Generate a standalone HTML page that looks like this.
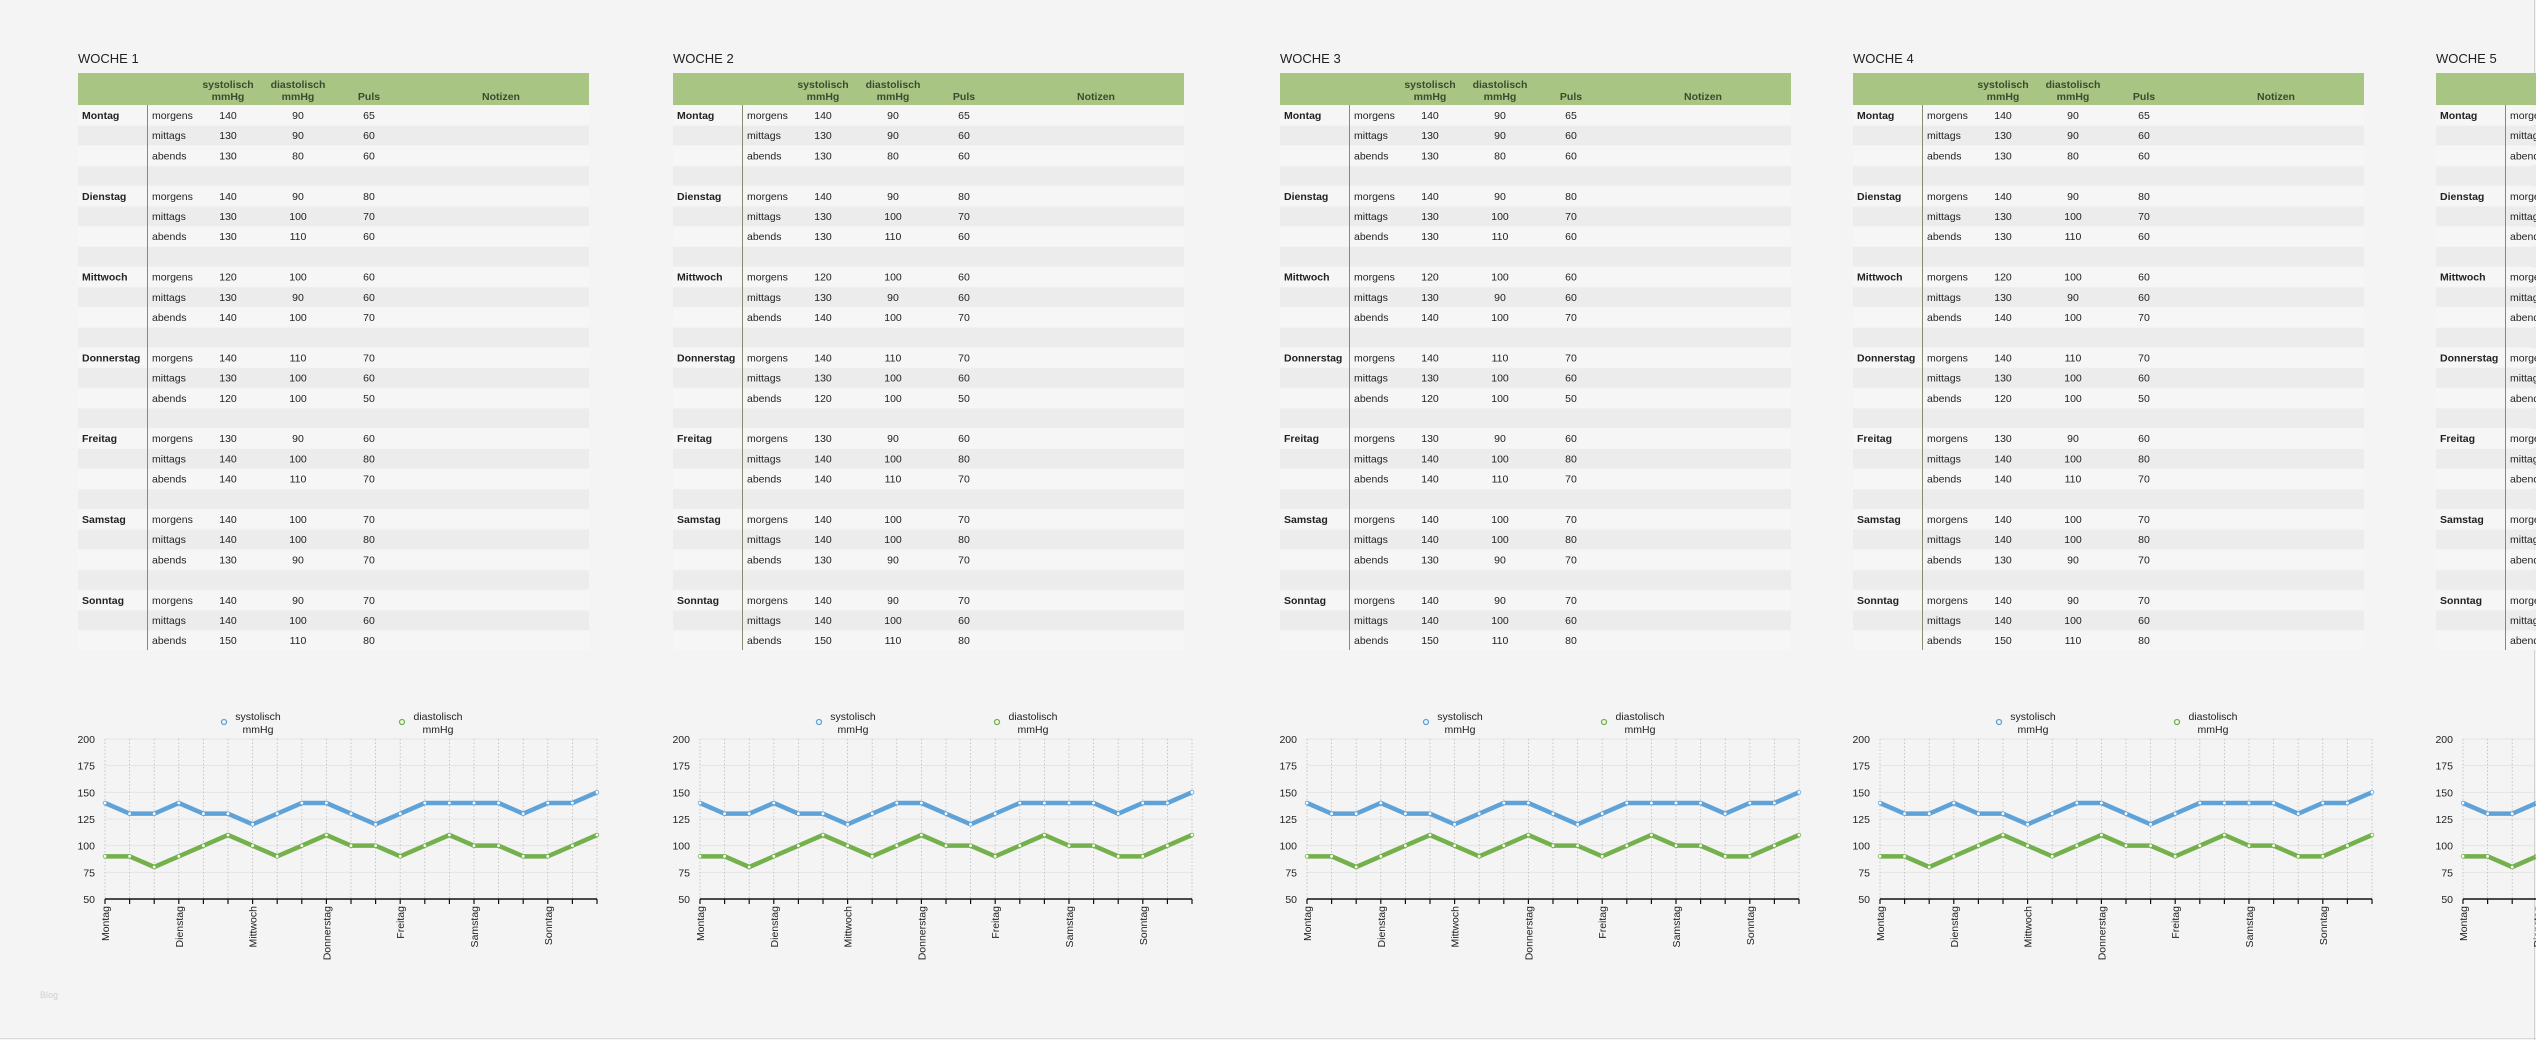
<!DOCTYPE html>
<html><head><meta charset="utf-8">
<style>
html,body{margin:0;padding:0;background:#f4f4f4;overflow:hidden;width:2536px;height:1040px}
svg{display:block;font-family:"Liberation Sans",Arial,sans-serif}
</style></head>
<body>
<svg id="s" width="2536" height="1040" xmlns="http://www.w3.org/2000/svg"></svg>
<script>
const sys=[140,130,130,140,130,130,120,130,140,140,130,120,130,140,140,140,140,130,140,140,150];
const dia=[90,90,80,90,100,110,100,90,100,110,100,100,90,100,110,100,100,90,90,100,110];
const pul=[65,60,60,80,70,60,60,60,70,70,60,50,60,80,70,70,80,70,70,60,80];
const days=["Montag","Dienstag","Mittwoch","Donnerstag","Freitag","Samstag","Sonntag"];
const times=["morgens","mittags","abends"];
const tables=[78,673,1280,1853,2436];
let h='';
h+='<rect x="0" y="0" width="2536" height="1040" fill="#f4f4f4"/>';
h+='<line x1="2534.5" y1="0" x2="2534.5" y2="1040" stroke="#d0d0d0"/>';
h+='<line x1="0" y1="1038.5" x2="2536" y2="1038.5" stroke="#d8d8d8"/>';
h+='<text x="40" y="998" font-size="9" fill="#d0d0d0">Blog</text>';
tables.forEach((T,w)=>{
  h+=`<text x="${T}" y="63" font-size="13" fill="#222">WOCHE ${w+1}</text>`;
  h+=`<rect x="${T}" y="73" width="511" height="32" fill="#a9c583"/>`;
  const hc='#3c4a30';
  h+=`<text x="${T+150}" y="88" font-size="10.5" fill="${hc}" text-anchor="middle" font-weight="bold">systolisch</text>`;
  h+=`<text x="${T+150}" y="100" font-size="10.5" fill="${hc}" text-anchor="middle" font-weight="bold">mmHg</text>`;
  h+=`<text x="${T+220}" y="88" font-size="10.5" fill="${hc}" text-anchor="middle" font-weight="bold">diastolisch</text>`;
  h+=`<text x="${T+220}" y="100" font-size="10.5" fill="${hc}" text-anchor="middle" font-weight="bold">mmHg</text>`;
  h+=`<text x="${T+291}" y="100" font-size="10.5" fill="${hc}" text-anchor="middle" font-weight="bold">Puls</text>`;
  h+=`<text x="${T+423}" y="100" font-size="10.5" fill="${hc}" text-anchor="middle" font-weight="bold">Notizen</text>`;
  for(let r=0;r<27;r++){
    const y=105+r*20.2;
    h+=`<rect x="${T}" y="${y+0.6}" width="511" height="19.4" fill="${r%2?'#ececec':'#f6f6f6'}"/>`;
    const d=Math.floor(r/4),k=r%4;
    const ty=y+14;
    if(k===0) h+=`<text x="${T+4}" y="${ty}" font-size="10.5" font-weight="bold" fill="#222">${days[d]}</text>`;
    if(k<3){
      const i=d*3+k;
      h+=`<text x="${T+74}" y="${ty}" font-size="10.5" fill="#222">${times[k]}</text>`;
      h+=`<text x="${T+150}" y="${ty}" font-size="10.5" fill="#222" text-anchor="middle">${sys[i]}</text>`;
      h+=`<text x="${T+220}" y="${ty}" font-size="10.5" fill="#222" text-anchor="middle">${dia[i]}</text>`;
      h+=`<text x="${T+291}" y="${ty}" font-size="10.5" fill="#222" text-anchor="middle">${pul[i]}</text>`;
    }
  }
  h+=`<line x1="${T+69.5}" y1="105" x2="${T+69.5}" y2="650" stroke="#8a8a70" stroke-width="1"/>`;
  const X0=T+27, step=24.6, Y=v=>899-(v-50)*160/150;
  h+=`<circle cx="${X0+119}" cy="722" r="2.5" fill="none" stroke="#5fa2d8" stroke-width="1.3"/>`;
  h+=`<text x="${X0+153}" y="720" font-size="10.5" fill="#222" text-anchor="middle">systolisch</text>`;
  h+=`<text x="${X0+153}" y="733" font-size="10.5" fill="#222" text-anchor="middle">mmHg</text>`;
  h+=`<circle cx="${X0+297}" cy="722" r="2.5" fill="none" stroke="#74b04c" stroke-width="1.3"/>`;
  h+=`<text x="${X0+333}" y="720" font-size="10.5" fill="#222" text-anchor="middle">diastolisch</text>`;
  h+=`<text x="${X0+333}" y="733" font-size="10.5" fill="#222" text-anchor="middle">mmHg</text>`;
  for(let v=50;v<=200;v+=25){
    if(v>50) h+=`<line x1="${X0}" y1="${Y(v)}" x2="${X0+492}" y2="${Y(v)}" stroke="#e4e4e4" stroke-width="1"/>`;
    h+=`<text x="${X0-10}" y="${Y(v)+4}" font-size="10.5" fill="#222" text-anchor="end">${v}</text>`;
  }
  for(let i=0;i<21;i++){
    const x=X0+i*step;
    h+=`<line x1="${x}" y1="739" x2="${x}" y2="899" stroke="#bbb" stroke-width="0.8" stroke-dasharray="1.5,2"/>`;
    h+=`<line x1="${x}" y1="899" x2="${x}" y2="904" stroke="#111" stroke-width="1.2"/>`;
    if(i%3===0) h+=`<text transform="translate(${x+4},906) rotate(-90)" font-size="10.5" fill="#222" text-anchor="end">${days[i/3]}</text>`;
  }
  h+=`<line x1="${X0}" y1="899" x2="${X0+492}" y2="899" stroke="#111" stroke-width="1.5"/>`;
  [[sys,'#5fa2d8'],[dia,'#74b04c']].forEach(([arr,c])=>{
    const pts=arr.map((v,i)=>`${X0+i*step},${Y(v)}`).join(' ');
    h+=`<polyline points="${pts}" fill="none" stroke="${c}" stroke-width="4.5" stroke-linejoin="round"/>`;
    arr.forEach((v,i)=>{h+=`<circle cx="${X0+i*step}" cy="${Y(v)}" r="1.8" fill="#fff" stroke="${c}" stroke-width="0.8"/>`;});
  });
});
document.getElementById('s').innerHTML=h;
</script>
</body></html>
